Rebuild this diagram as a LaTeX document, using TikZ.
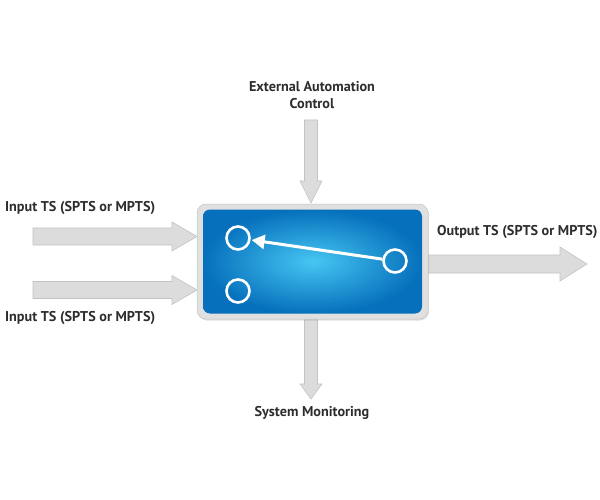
\documentclass[tikz,border=0pt]{standalone}
\usepackage{fontspec}
\setmainfont{PT Sans}
\usetikzlibrary{arrows.meta,shadows}
\definecolor{arrowgray}{RGB}{220,220,220}
\definecolor{arrowedge}{RGB}{195,195,195}
\definecolor{textgray}{RGB}{45,45,45}
\definecolor{blueout}{RGB}{6,112,188}
\definecolor{bluein}{RGB}{70,198,242}
\definecolor{framegray}{RGB}{224,224,224}
\newcommand\hblock[6]{\path[blockarrow] (#1,#3-#4) -- (#2-#6,#3-#4) -- (#2-#6,#3-#5) -- (#2,#3) -- (#2-#6,#3+#5) -- (#2-#6,#3+#4) -- (#1,#3+#4) -- cycle;}
\newcommand\vblock[6]{\path[blockarrow] (#3-#4,#1) -- (#3-#4,#2-#6) -- (#3-#5,#2-#6) -- (#3,#2) -- (#3+#5,#2-#6) -- (#3+#4,#2-#6) -- (#3+#4,#1) -- cycle;}
\begin{document}
\begin{tikzpicture}[x=1pt,y=-1pt,
  lbl/.style={text=textgray,font=\bfseries\fontsize{14.2}{16.5}\selectfont,inner sep=0pt},
  blockarrow/.style={fill=arrowgray,draw=arrowedge,line width=0.6pt,line join=miter},
  port/.style={circle,draw=white,line width=2.6pt,minimum size=23pt,inner sep=0pt},
  framebox/.style={rectangle,rounded corners=9pt,fill=framegray,draw=gray!45,line width=0.5pt,minimum width=231pt,minimum height=115pt,drop shadow={opacity=0.25,shadow xshift=1pt,shadow yshift=-1.5pt}},
  bluebox/.style={rectangle,rounded corners=7pt,inner color=bluein,outer color=blueout,minimum width=219pt,minimum height=104pt}]
\useasboundingbox (0,0) rectangle (600,500);
\fill[white] (0,0) rectangle (600,500);
% block arrows
\hblock{33}{197}{236.5}{8.5}{14.5}{25}
\hblock{33}{197}{290}{8.5}{14.5}{25}
\hblock{420}{587}{264}{9}{17}{27}
\vblock{120}{203}{311}{6.5}{11}{22}
\vblock{310}{399}{311}{6.5}{11}{15}
% switch box
\node[framebox] (frame) at (312.5,261.5) {};
\node[bluebox] (panel) at (312.5,261.5) {};
\node[port] (in1) at (238,238) {};
\node[port] (in2) at (238,291) {};
\node[port] (out) at (395,261) {};
\draw[white,line width=3pt,-{Triangle[length=13pt,width=14pt]},shorten >=1pt] (out) -- (in1);
% labels
\node[lbl,anchor=west] (lin1) at (5,208) {Input TS (SPTS or MPTS)};
\node[lbl,anchor=west] (lin2) at (5,318) {Input TS (SPTS or MPTS)};
\node[lbl,anchor=west] (lout) at (437,232) {Output TS (SPTS or MPTS)};
\node[lbl,align=center] (lext) at (312,95) {External Automation\\Control};
\node[lbl] (lmon) at (312,413) {System Monitoring};
\end{tikzpicture}
\end{document}
